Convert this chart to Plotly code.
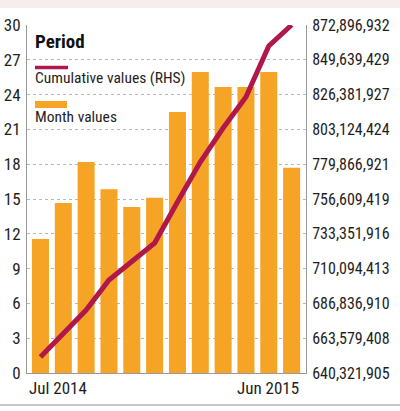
import plotly.graph_objects as go

# ---- data ----
months = ["Jul 2014", "Aug 2014", "Sep 2014", "Oct 2014", "Nov 2014", "Dec 2014",
          "Jan 2015", "Feb 2015", "Mar 2015", "Apr 2015", "May 2015", "Jun 2015"]
month_values = [11.55, 14.65, 18.2, 15.85, 14.3, 15.1, 22.5, 25.95, 24.65, 24.65, 25.95, 17.7]
cumulative_values = [651015009, 666386348, 682426170, 702475577, 715173867, 727203266,
                     754604637, 781335415, 804059232, 824777960, 858862912, 872896932]
left_ticks = [0, 3, 6, 9, 12, 15, 18, 21, 24, 27, 30]
right_tick_labels = ["640,321,905", "663,579,408", "686,836,910", "710,094,413",
                     "733,351,916", "756,609,419", "779,866,921", "803,124,424",
                     "826,381,927", "849,639,429", "872,896,932"]
x_tick_labels = ["Jul 2014", "Jun 2015"]
legend_title = "Period"
line_name = "Cumulative values (RHS)"
bar_name = "Month values"

right_tick_vals = [int(s.replace(",", "")) for s in right_tick_labels]

FONT = "Liberation Sans Narrow, Roboto Condensed, Arial Narrow, sans-serif"
ORANGE = "#F5A425"
CRIMSON = "#B0174A"
TXT = "#1e1e1e"

fig = go.Figure()
fig.add_trace(go.Bar(x=months, y=month_values, name=bar_name,
                     marker=dict(color=ORANGE, line=dict(width=0)), yaxis="y"))
fig.add_trace(go.Scatter(x=months, y=cumulative_values, name=line_name, mode="lines",
                         line=dict(color=CRIMSON, width=5), yaxis="y2"))

fig.update_layout(
    width=400, height=411,
    margin=dict(l=27, r=94, t=25, b=38, autoexpand=False),
    paper_bgcolor="white", plot_bgcolor="white",
    showlegend=False,
    bargap=0.255,
    font=dict(family=FONT, size=16, color=TXT),
    xaxis=dict(type="category", range=[-0.59, 11.63], showticklabels=False,
               showgrid=False, showline=True, linecolor="#9a9a9a", linewidth=1,
               ticks="", zeroline=False, automargin=False),
    yaxis=dict(range=[0, 30], tickvals=left_ticks, showgrid=True,
               gridcolor="#b8b8b8", griddash="dot", gridwidth=1,
               showline=True, linecolor="#9a9a9a", linewidth=1, ticks="",
               zeroline=False, tickfont=dict(size=17, color=TXT),
               ticklabelstandoff=2, automargin=False),
    yaxis2=dict(overlaying="y", side="right",
                range=[right_tick_vals[0], right_tick_vals[-1]],
                tickvals=right_tick_vals, ticktext=right_tick_labels,
                showgrid=False, showline=True, linecolor="#9a9a9a", linewidth=1,
                ticks="", zeroline=False, tickfont=dict(size=16, color=TXT),
                ticklabelstandoff=2, automargin=False),
)

# x labels: first aligned left, last aligned right
fig.add_annotation(x=months[0], y=0, xref="x", yref="paper", text=x_tick_labels[0],
                   showarrow=False, xanchor="left", yanchor="top", xshift=-13, yshift=-3,
                   font=dict(size=17, color=TXT))
fig.add_annotation(x=months[-1], y=0, xref="x", yref="paper", text=x_tick_labels[1],
                   showarrow=False, xanchor="right", yanchor="top", xshift=9, yshift=-3,
                   font=dict(size=17, color=TXT))

# custom legend (swatch above text)
def px_x(p):
    return (p - 27) / (400 - 27 - 94)

def px_y(p):
    return (411 - 38 - p) / (411 - 25 - 38)

fig.add_annotation(x=px_x(33), y=px_y(41), xref="paper", yref="paper",
                   text="<b>" + legend_title + "</b>", showarrow=False,
                   xanchor="left", yanchor="middle", font=dict(size=19, color="#111"))
fig.add_shape(type="line", xref="paper", yref="paper",
              x0=px_x(35), x1=px_x(68), y0=px_y(67.5), y1=px_y(67.5),
              line=dict(color=CRIMSON, width=3.5))
fig.add_annotation(x=px_x(33), y=px_y(78), xref="paper", yref="paper",
                   text=line_name, showarrow=False, xanchor="left", yanchor="middle",
                   font=dict(size=15.5, color=TXT))
fig.add_shape(type="rect", xref="paper", yref="paper",
              x0=px_x(35), x1=px_x(67), y0=px_y(108), y1=px_y(101),
              line=dict(width=0), fillcolor=ORANGE)
fig.add_annotation(x=px_x(33), y=px_y(117), xref="paper", yref="paper",
                   text=bar_name, showarrow=False, xanchor="left", yanchor="middle",
                   font=dict(size=15.5, color=TXT))

# page decoration: pale pink top strip and grey bottom rule
fig.add_shape(type="rect", xref="paper", yref="paper",
              x0=px_x(0), x1=px_x(400), y0=px_y(0), y1=px_y(8),
              line=dict(width=0), fillcolor="#f6eded", layer="below")
fig.add_shape(type="line", xref="paper", yref="paper",
              x0=px_x(0), x1=px_x(400), y0=px_y(405), y1=px_y(405),
              line=dict(color="#c8c8c8", width=2))

fig.write_html("out.html", config={"displayModeBar": False},
               post_script="document.body.style.margin='0';document.body.style.padding='0';")
